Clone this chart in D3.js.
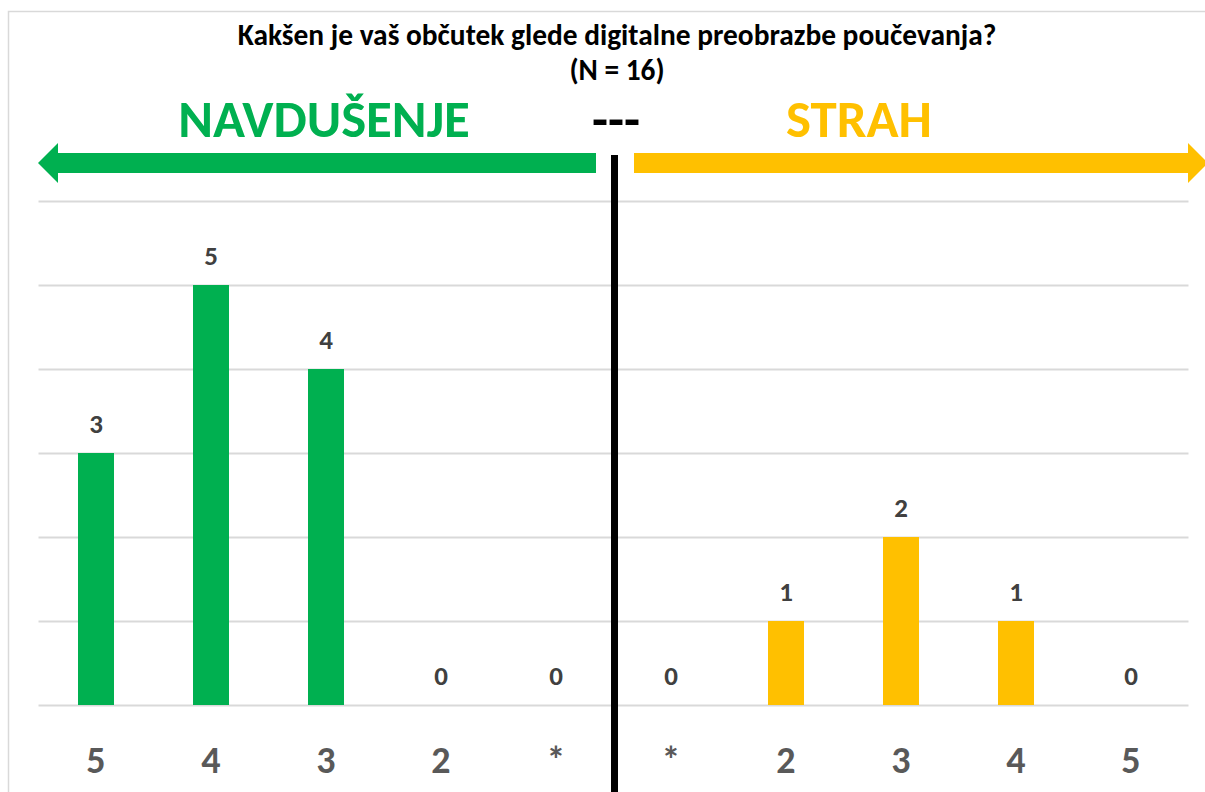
<!DOCTYPE html>
<meta charset="utf-8">
<style>
  body{ margin:0; background:#fff; }
  svg{ display:block; }
  text{ font-family: Calibri, Carlito, Lato, "Open Sans", sans-serif; font-weight:bold; }
</style>
<script src="https://d3js.org/d3.v7.min.js"></script>
<svg id="vis"></svg>
<script>
  var width = 1205,
    height = 792;

  // data -------------------------------------------------
  var categories = ["L5", "L4", "L3", "L2", "L*", "R*", "R2", "R3", "R4", "R5"];
  var tickLabels = ["5", "4", "3", "2", "*", "*", "2", "3", "4", "5"];
  var values = [3, 5, 4, 0, 0, 0, 1, 2, 1, 0];
  var sides = ["left", "left", "left", "left", "left", "right", "right", "right", "right", "right"];
  var title = "Kakšen je vaš občutek glede digitalne preobrazbe poučevanja?";
  var subtitle = "(N = 16)";

  var green = "#00B050",
    yellow = "#FFC000";

  var svg = d3.select("#vis")
    .attr("width", width)
    .attr("height", height);

  // scales
  var x = d3.scaleBand()
    .domain(categories)
    .range([38.5, 1188.5]);

  var y = d3.scaleLinear()
    .domain([0, 6])
    .range([705, 201]);

  // shrink/grow a text so it spans about the width seen in the picture
  function fitText(sel, size, w) {
    sel.style("font-size", size + "px");
    var len = sel.node().getComputedTextLength();
    sel.style("font-size", (size * w / len).toFixed(1) + "px");
  }

  // chart border
  svg.append("rect")
    .attr("x", 8.5).attr("y", 11.5)
    .attr("width", 1300).attr("height", 900)
    .style("fill", "none")
    .style("stroke", "#d9d9d9")
    .style("stroke-width", 1.5);

  // gridlines
  svg.append("g")
    .selectAll("line")
    .data(y.ticks(6))
    .enter().append("line")
    .attr("x1", x.range()[0])
    .attr("x2", x.range()[1])
    .attr("y1", d => Math.round(y(d)) + 0.5)
    .attr("y2", d => Math.round(y(d)) + 0.5)
    .style("stroke", "#d9d9d9")
    .style("stroke-width", 2);

  // bars
  var barW = 36;
  svg.append("g")
    .selectAll("rect")
    .data(values)
    .enter().append("rect")
    .attr("x", (d, i) => x(categories[i]) + x.bandwidth() / 2 - barW / 2)
    .attr("y", d => y(d))
    .attr("width", barW)
    .attr("height", d => y(0) - y(d))
    .style("fill", (d, i) => sides[i] == "left" ? green : yellow);

  // value labels
  svg.append("g")
    .selectAll("text")
    .data(values)
    .enter().append("text")
    .attr("x", (d, i) => x(categories[i]) + x.bandwidth() / 2)
    .attr("y", d => y(d) - 20)
    .attr("text-anchor", "middle")
    .style("font-size", "27px")
    .style("fill", "#404040")
    .text(d => d);

  // category labels
  svg.append("g")
    .selectAll("text")
    .data(tickLabels)
    .enter().append("text")
    .attr("x", (d, i) => x(categories[i]) + x.bandwidth() / 2)
    .attr("y", 773)
    .attr("text-anchor", "middle")
    .style("font-size", "38px")
    .style("fill", "#595959")
    .text(d => d);

  // divider
  svg.append("rect")
    .attr("x", 611).attr("y", 155)
    .attr("width", 7).attr("height", 640)
    .style("fill", "#000");

  // title
  var t1 = svg.append("text")
    .attr("x", 617).attr("y", 45)
    .attr("text-anchor", "middle")
    .style("fill", "#000")
    .text(title);
  fitText(t1, 21, 760);

  var t2 = svg.append("text")
    .attr("x", 617).attr("y", 80)
    .attr("text-anchor", "middle")
    .style("fill", "#000")
    .text(subtitle);
  fitText(t2, 21, 95);

  // headings
  var h1 = svg.append("text")
    .attr("x", 324).attr("y", 137)
    .attr("text-anchor", "middle")
    .style("fill", green)
    .text("NAVDUŠENJE");
  fitText(h1, 47, 292);

  var h2 = svg.append("text")
    .attr("x", 616).attr("y", 137)
    .attr("text-anchor", "middle")
    .style("fill", "#000")
    .text("---");
  fitText(h2, 47, 48);

  var h3 = svg.append("text")
    .attr("x", 859).attr("y", 137)
    .attr("text-anchor", "middle")
    .style("fill", yellow)
    .text("STRAH");
  fitText(h3, 47, 146);

  // arrows
  var leftArrow = [[596, 153], [58, 153], [58, 143], [38, 163], [58, 183], [58, 173], [596, 173]];
  var rightArrow = [[634, 153], [1188, 153], [1188, 143], [1208, 163], [1188, 183], [1188, 173], [634, 173]];

  svg.append("polygon")
    .attr("points", leftArrow.map(p => p.join(",")).join(" "))
    .style("fill", green);

  svg.append("polygon")
    .attr("points", rightArrow.map(p => p.join(",")).join(" "))
    .style("fill", yellow);
</script>
